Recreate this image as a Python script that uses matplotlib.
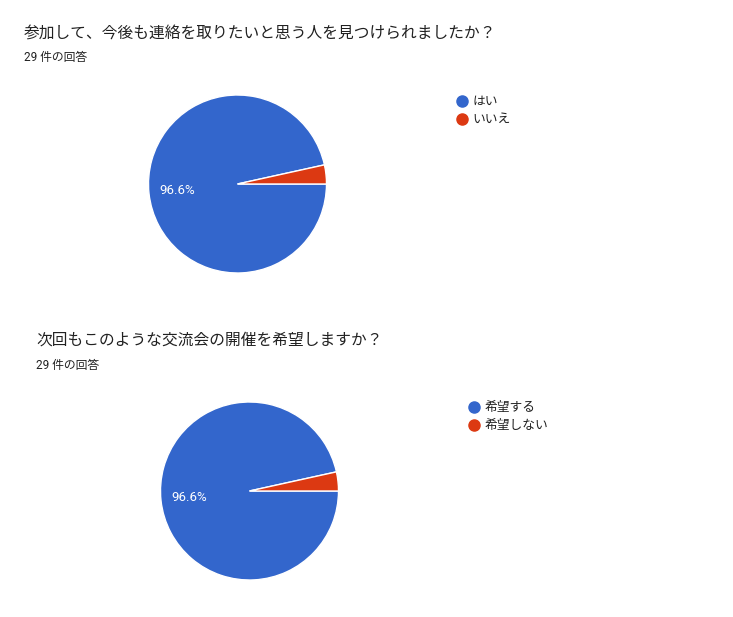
import matplotlib
matplotlib.use("Agg")
from matplotlib import pyplot as plt
from matplotlib.lines import Line2D

plt.rcParams['font.family'] = ['Roboto', 'Noto Sans CJK JP', 'DejaVu Sans']

# data
q1_title = "参加して、今後も連絡を取りたいと思う人を見つけられましたか？"
q1_labels = ["はい", "いいえ"]
q1_counts = [28, 1]

q2_title = "次回もこのような交流会の開催を希望しますか？"
q2_labels = ["希望する", "希望しない"]
q2_counts = [28, 1]

n_responses = 29
colors = ["#3366cc", "#dc3912"]
text_color = "#212121"

W, H = 733, 617
fig = plt.figure(figsize=(W / 100, H / 100), dpi=100)
fig.patch.set_facecolor("white")


def px(x, y):
    return x / W, 1 - y / H


def autopct(p):
    return f"{p:.1f}%" if p > 5 else ""


def draw_question(title, labels, counts, title_xy, pie_center, legend_xy):
    tx, ty = px(*title_xy)
    fig.text(tx, ty, title, fontsize=11.3, color=text_color, va="center", ha="left")
    sx, sy = px(title_xy[0], title_xy[1] + 25)
    fig.text(sx, sy, f"{n_responses} 件の回答", fontsize=8.5, color=text_color,
             va="center", ha="left")

    r = 89
    cx, cy = pie_center
    ax = fig.add_axes([(cx - r) / W, (H - cy - r) / H, 2 * r / W, 2 * r / H])
    start = 360 * counts[1] / sum(counts)
    wedges, _, autotexts = ax.pie(counts, colors=colors, startangle=start,
                                  counterclock=True, radius=1,
                                  autopct=autopct, pctdistance=0.68,
                                  wedgeprops=dict(edgecolor="white", linewidth=1))
    for t in autotexts:
        t.set_color("white")
        t.set_fontsize(9.5)
    ax.set_xlim(-1, 1)
    ax.set_ylim(-1, 1)
    ax.set_aspect("equal")

    handles = [Line2D([], [], marker="o", linestyle="", markersize=8,
                      markerfacecolor=c, markeredgecolor=c) for c in colors]
    lx, ly = px(*legend_xy)
    fig.legend(handles, labels, loc="upper left", bbox_to_anchor=(lx, ly),
               frameon=False, fontsize=9.2, handlelength=0.8, handletextpad=0.4,
               labelspacing=0.4, borderpad=0, borderaxespad=0,
               labelcolor=text_color)


draw_question(q1_title, q1_labels, q1_counts, (24, 33), (237.5, 184), (457, 95))
draw_question(q2_title, q2_labels, q2_counts, (36, 340), (249.5, 491), (469, 401))

fig.savefig("out.png", dpi=100)
